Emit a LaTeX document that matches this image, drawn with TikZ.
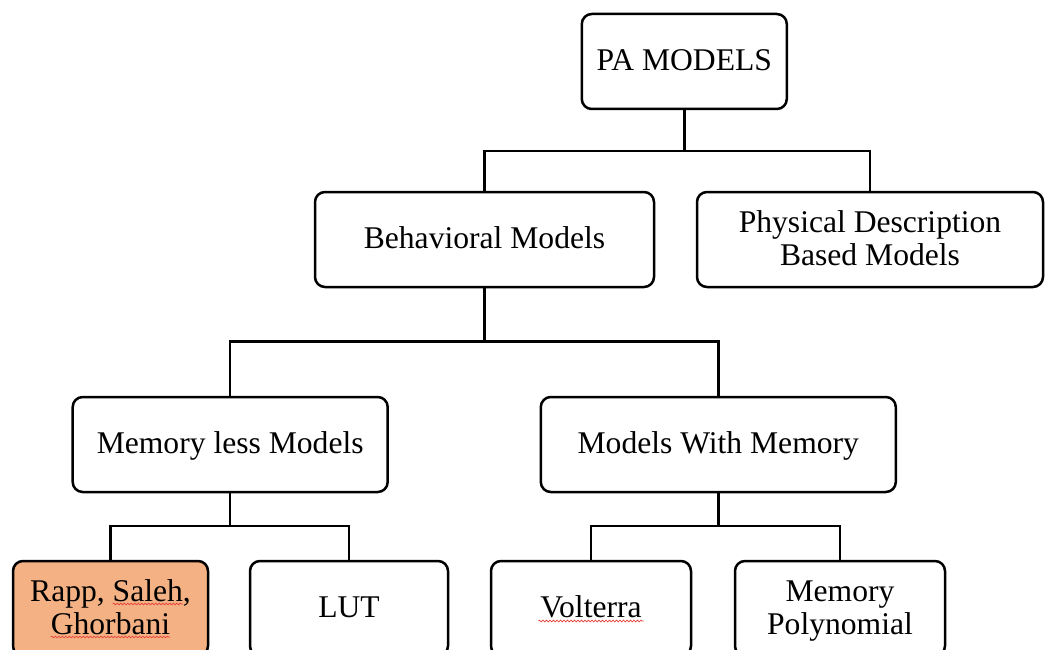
\documentclass[tikz,border=0pt]{standalone}
\usepackage{fontspec}
\setmainfont{Liberation Serif}
\usetikzlibrary{decorations.pathmorphing}
\definecolor{boxorange}{HTML}{F4B183}
\definecolor{spellred}{HTML}{E8403A}
% strut giving every line the same height and depth
\newcommand\ls{\rule[-0.22em]{0pt}{1.04em}}
\tikzset{
  box/.style={draw=black, line width=2.5pt, rounded corners=10pt, fill=white,
    inner sep=0pt, align=center, minimum height=95pt,
    font=\fontsize{31.6}{33}\selectfont},
  link/.style={draw=black, line width=2.5pt},
  squig/.style={draw=spellred, line width=0.7pt,
    decorate, decoration={snake, segment length=3.5pt, amplitude=0.8pt}}
}
\begin{document}
\begin{tikzpicture}[x=1pt, y=-1pt]
\useasboundingbox (0,0) rectangle (1047,650);
\clip (0,0) rectangle (1047,650);
\fill[white] (0,0) rectangle (1047,650);

% boxes
\node[box, minimum width=205pt] (pa)    at (684.3,61.5) {\ls PA MODELS};
\node[box, minimum width=339pt] (beh)   at (484.5,239.5) {\ls Behavioral Models};
\node[box, minimum width=346pt] (phys)  at (870,239.5) {\ls Physical Description\\\ls Based Models};
\node[box, minimum width=315pt] (mless) at (230.2,444.5) {\ls Memory less Models};
\node[box, minimum width=355pt] (mwm)   at (718.3,444.5) {\ls Models With Memory};
\node[box, minimum width=195pt, fill=boxorange] (rapp) at (110.5,608.5) {\ls Rapp, Saleh,\\\ls Ghorbani};
\node[box, minimum width=198pt] (lut)   at (349,608.5) {\ls LUT};
\node[box, minimum width=200pt] (volt)  at (591,608.5) {\ls Volterra};
\node[box, minimum width=210pt] (mpoly) at (840,608.5) {\ls Memory\\\ls Polynomial};

% tree connectors
\coordinate (j1) at (684.3,151);
\coordinate (j2) at (484.5,341.7);
\coordinate (j3) at (230.2,526);
\coordinate (j4) at (718.3,526);
\draw[link] (pa.south) -- (j1);
\draw[link] (beh.north) |- (j1) -| (phys.north);
\draw[link] (beh.south) -- (j2);
\draw[link] (mless.north) |- (j2) -| (mwm.north);
\draw[link] (mless.south) -- (j3);
\draw[link] (rapp.north) |- (j3) -| (lut.north);
\draw[link] (mwm.south) -- (j4);
\draw[link] (volt.north) |- (j4) -| (mpoly.north);

% wavy spelling marks under words
\draw[squig] (112.7,604) -- (182.9,604);
\draw[squig] (50.8,637) -- (170.2,637);
\draw[squig] (538.4,621) -- (643.6,621);
\end{tikzpicture}
\end{document}
